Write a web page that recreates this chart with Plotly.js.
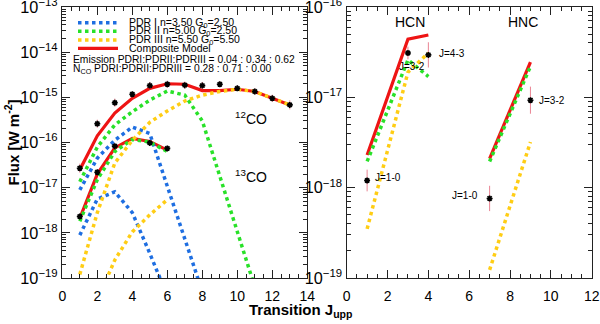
<!DOCTYPE html>
<html>
<head>
<meta charset="utf-8">
<script src="https://cdn.plot.ly/plotly-3.0.1.min.js"></script>
<style>
  body { margin: 0; background: #fff; }
  #fluxPlot { width: 600px; height: 324px; }
</style>
</head>
<body>
<div id="fluxPlot"></div>
<script>
// 12CO ladder (J_upp 1..13)
let jCO = [1, 2, 3, 4, 5, 6, 7, 8, 9, 10, 11, 12, 13]
let obsCO12 = [2.7e-17, 2.6e-16, 7.6e-16, 1.17e-15, 1.82e-15, 1.95e-15, 1.86e-15, 1.82e-15, 1.95e-15, 1.58e-15, 1.35e-15, 9.5e-16, 6.8e-16]
let errCO12 = [0.1, 0.09, 0.09, 0.06, 0.08, 0.08, 0.08, 0.08, 0.06, 0.06, 0.07, 0.08, 0.1] // dex
let compCO12 = [2.5e-17, 1.41e-16, 4.47e-16, 9.5e-16, 1.58e-15, 2.0e-15, 1.95e-15, 1.41e-15, 1.41e-15, 1.51e-15, 1.35e-15, 9.5e-16, 6.8e-16]
let pdr1CO12 = [8.9e-18, 4.5e-17, 1.12e-16, 2.2e-16, 1.58e-16, 1.12e-17, 7.9e-19, 5.0e-20]
let pdr2CO12 = [1.35e-17, 7.9e-17, 2.45e-16, 4.8e-16, 8.7e-16, 1.38e-15, 1.12e-15, 3.0e-16, 1.8e-17, 1.1e-18, 6.3e-20]
let pdr3CO12 = [1.2e-19, 2.8e-18, 3.5e-17, 1.12e-16, 2.8e-16, 5.0e-16, 8.3e-16, 1.12e-15, 1.35e-15, 1.51e-15, 1.35e-15, 9.5e-16, 6.8e-16]

// 13CO ladder
let jObs13 = [1, 2, 3, 5, 6]
let obsCO13 = [2.3e-18, 2.2e-17, 8.3e-17, 9.8e-17, 7.4e-17]
let errCO13 = [0.06, 0.06, 0.06, 0.07, 0.06]
let jMod13 = [1, 2, 3, 4, 5, 6]
let compCO13 = [2.1e-18, 2.0e-17, 7.6e-17, 1.23e-16, 1.05e-16, 6.8e-17]
let pdr1CO13 = [8.9e-19, 5.6e-18, 8.1e-18, 2.8e-18, 3.5e-19, 4.0e-20]
let pdr2CO13 = [1.8e-18, 1.5e-17, 6.3e-17, 1.17e-16, 1.02e-16, 6.3e-17]
let jPdr3_13 = [2, 3, 4, 5, 6]
let pdr3CO13 = [3.2e-20, 2.5e-19, 1.05e-18, 2.5e-18, 5.4e-18]

// HCN (J=1,3,4) and HNC (plotted at J+6)
let jHCN = [1, 3, 4]
let obsHCN = [1.2e-18, 3.1e-17, 2.95e-17]
let errHCN = [0.12, 0.07, 0.14]
let compHCN = [2.3e-18, 4.4e-17, 4.9e-17]
let pdr2HCN = [1.95e-18, 2.6e-17, 1.7e-17]
let pdr3HCN = [3.5e-19, 1.9e-17, 3.1e-17]
let jHNC = [7, 9]
let obsHNC = [7.6e-19, 9.3e-18]
let errHNC = [0.14, 0.15]
let compHNC = [2.1e-18, 2.45e-17]
let pdr2HNC = [1.95e-18, 2.2e-17]
let pdr3HNC = [1.23e-19, 3.2e-18]

let labelsHCN = ['J=1-0', 'J=3-2', 'J=4-3']
let labelsHNC = ['J=1-0', 'J=3-2']
let legendNames = ['PDR I n=3.50 G<sub>0</sub>=2.50', 'PDR II n=5.00 G<sub>0</sub>=2.50', 'PDR III n=5.50 G<sub>0</sub>=5.50', 'Composite Model']
let ratioLines = ['Emission PDRI:PDRII:PDRIII = 0.04 : 0.34 : 0.62', 'N<sub>CO</sub> PDRI:PDRII:PDRIII = 0.28 : 0.71 : 0.00']

let colors = { p1: 'rgb(30,110,225)', p2: 'rgb(40,225,40)', p3: 'rgb(255,205,20)', comp: 'rgb(238,20,20)' }
let FONT = 'Liberation Sans, Arial, sans-serif'
let W = 600, H = 324

let px = (x) => x / W
let py = (y) => 1 - y / H

let modelLine = function (x, y, color, dotted, xa, ya) {
    return {
        x: x, y: y, xaxis: xa, yaxis: ya,
        type: 'scatter', mode: 'lines', showlegend: false, hoverinfo: 'skip',
        line: { color: color, width: dotted ? 3.5 : 3.2, dash: dotted ? 'dot' : 'solid' }
    }
}

let obsPoints = function (x, y, err, xa, ya) {
    return {
        x: x, y: y, xaxis: xa, yaxis: ya,
        type: 'scatter', mode: 'markers', showlegend: false, hoverinfo: 'skip',
        marker: { symbol: 'asterisk-open', size: 5, color: '#000', line: { color: '#000', width: 1.6 } },
        error_y: {
            type: 'data', symmetric: false,
            array: y.map((v, i) => v * (Math.pow(10, err[i]) - 1)),
            arrayminus: y.map((v, i) => v * (1 - Math.pow(10, -err[i]))),
            color: 'rgba(225,90,110,0.75)', thickness: 1, width: 0
        }
    }
}

let traceArr = [
    // left panel: composites first, dotted components on top
    modelLine(jCO, compCO12, colors.comp, false, 'x', 'y'),
    modelLine(jMod13, compCO13, colors.comp, false, 'x', 'y'),
    modelLine(jCO, pdr1CO12, colors.p1, true, 'x', 'y'),
    modelLine(jMod13, pdr1CO13, colors.p1, true, 'x', 'y'),
    modelLine(jCO, pdr2CO12, colors.p2, true, 'x', 'y'),
    modelLine(jMod13, pdr2CO13, colors.p2, true, 'x', 'y'),
    modelLine(jCO, pdr3CO12, colors.p3, true, 'x', 'y'),
    modelLine(jPdr3_13, pdr3CO13, colors.p3, true, 'x', 'y'),
    obsPoints(jCO, obsCO12, errCO12, 'x', 'y'),
    obsPoints(jObs13, obsCO13, errCO13, 'x', 'y'),
    // right panel
    modelLine(jHCN, compHCN, colors.comp, false, 'x2', 'y2'),
    modelLine(jHNC, compHNC, colors.comp, false, 'x2', 'y2'),
    modelLine(jHCN, pdr2HCN, colors.p2, true, 'x2', 'y2'),
    modelLine(jHNC, pdr2HNC, colors.p2, true, 'x2', 'y2'),
    modelLine(jHCN, pdr3HCN, colors.p3, true, 'x2', 'y2'),
    modelLine(jHNC, pdr3HNC, colors.p3, true, 'x2', 'y2'),
    obsPoints(jHCN, obsHCN, errHCN, 'x2', 'y2'),
    obsPoints(jHNC, obsHNC, errHNC, 'x2', 'y2')
]

let xAxisBase = {
    showline: true, linecolor: '#222', linewidth: 1, mirror: 'allticks',
    ticks: 'inside', ticklen: 8, tickcolor: '#222', dtick: 2,
    minor: { dtick: 0.5, ticks: 'inside', ticklen: 4, tickcolor: '#222' },
    showgrid: false, zeroline: false, ticklabelstandoff: 5, ticklabeloverflow: 'allow',
    tickfont: { family: FONT, size: 14, color: '#000' }
}
let yAxisBase = {
    type: 'log', dtick: 1, exponentformat: 'power',
    showline: true, linecolor: '#222', linewidth: 1, mirror: 'allticks',
    ticks: 'inside', ticklen: 8, tickcolor: '#222',
    minor: { dtick: 'D1', ticks: 'inside', ticklen: 4, tickcolor: '#222' },
    showgrid: false, zeroline: false, ticklabeloverflow: 'allow', ticklabelstandoff: 1,
    tickfont: { family: FONT, size: 13, color: '#000' },
    domain: [py(278), py(7)]
}

let annots = []
let shapes = []
// legend (drawn by hand, Plotly's legend rows are too tall)
let legendY = [22.7, 31.3, 40, 48.3]
let legendColors = [colors.p1, colors.p2, colors.p3, colors.comp]
legendNames.forEach((name, i) => {
    shapes.push({
        type: 'line', xref: 'paper', yref: 'paper',
        x0: px(78), x1: px(118), y0: py(legendY[i]), y1: py(legendY[i]),
        line: { color: legendColors[i], width: i === 3 ? 3.2 : 3.5, dash: i === 3 ? 'solid' : 'dot' }
    })
    annots.push({
        xref: 'paper', yref: 'paper', x: px(127), y: py(legendY[i]), xanchor: 'left', yanchor: 'middle',
        text: name, showarrow: false, font: { family: FONT, size: 10.5, color: '#000' }
    })
})
ratioLines.forEach((t, i) => {
    annots.push({
        xref: 'paper', yref: 'paper', x: px(71), y: py(59.3 + i * 10), xanchor: 'left', yanchor: 'middle',
        text: t, showarrow: false, font: { family: FONT, size: 10.3, color: '#000' }
    })
})
// species labels
annots.push({ xref: 'x', yref: 'y', x: 10.8, y: -15.46, text: '<sup>12</sup>CO', showarrow: false, font: { family: FONT, size: 14, color: '#000' } })
annots.push({ xref: 'x', yref: 'y', x: 10.8, y: -16.74, text: '<sup>13</sup>CO', showarrow: false, font: { family: FONT, size: 14, color: '#000' } })
annots.push({ xref: 'x2', yref: 'y2', x: 3.1, y: -16.17, text: 'HCN', showarrow: false, font: { family: FONT, size: 14, color: '#000' } })
annots.push({ xref: 'x2', yref: 'y2', x: 8.64, y: -16.17, text: 'HNC', showarrow: false, font: { family: FONT, size: 14, color: '#000' } })
// transition labels next to the points
let hcnLabelPos = [[1.29, -17.89, 'left'], [2.46, -16.66, 'left'], [4.41, -16.51, 'left']]
labelsHCN.forEach((t, i) => {
    annots.push({ xref: 'x2', yref: 'y2', x: hcnLabelPos[i][0], y: hcnLabelPos[i][1], xanchor: hcnLabelPos[i][2], text: t, showarrow: false, font: { family: FONT, size: 10, color: '#000' } })
})
let hncLabelPos = [[6.55, -18.09, 'right'], [9.3, -17.03, 'left']]
labelsHNC.forEach((t, i) => {
    annots.push({ xref: 'x2', yref: 'y2', x: hncLabelPos[i][0], y: hncLabelPos[i][1], xanchor: hncLabelPos[i][2], text: t, showarrow: false, font: { family: FONT, size: 10, color: '#000' } })
})
// axis titles
annots.push({
    xref: 'paper', yref: 'paper', x: px(12), y: py(142.5), xanchor: 'center', yanchor: 'middle', textangle: -90,
    text: '<b>Flux [W m<sup>-2</sup>]</b>', showarrow: false, font: { family: FONT, size: 15, color: '#000' }
})
annots.push({
    xref: 'paper', yref: 'paper', x: px(300), y: py(310), xanchor: 'center', yanchor: 'middle',
    text: '<b>Transition J<sub>upp</sub></b>', showarrow: false, font: { family: FONT, size: 15, color: '#000' }
})

let layout = {
    width: W, height: H,
    margin: { l: 0, r: 0, t: 0, b: 0 },
    paper_bgcolor: '#fff', plot_bgcolor: '#fff',
    showlegend: false,
    xaxis: Object.assign({}, xAxisBase, { domain: [px(62.3), px(307.3)], range: [0, 14], anchor: 'y' }),
    yaxis: Object.assign({}, yAxisBase, { range: [-19, -13], anchor: 'x' }),
    xaxis2: Object.assign({}, xAxisBase, { domain: [px(346.7), px(591.7)], range: [0, 12], anchor: 'y2' }),
    yaxis2: Object.assign({}, yAxisBase, { range: [-19, -16], anchor: 'x2' }),
    annotations: annots,
    shapes: shapes
}

Plotly.newPlot('fluxPlot', traceArr, layout, { displayModeBar: false, staticPlot: true })
</script>
</body>
</html>
